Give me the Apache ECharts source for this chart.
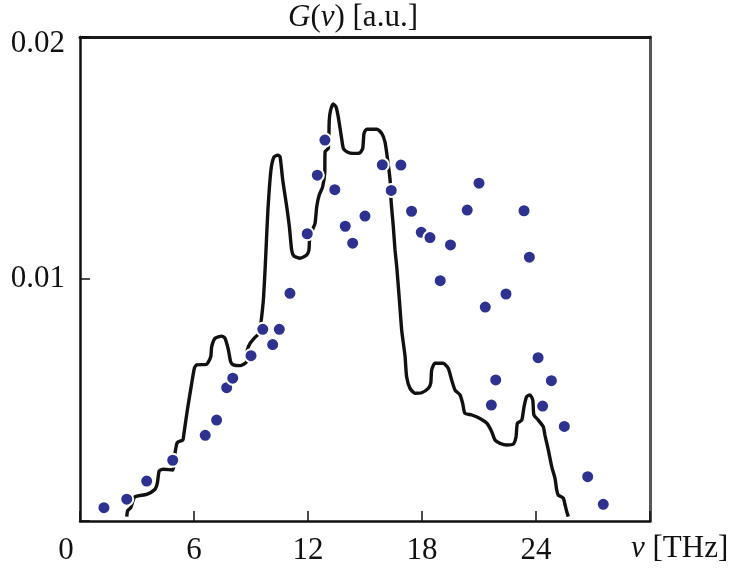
<!DOCTYPE html>
<html>
<head>
<meta charset="utf-8">
<script src="https://cdn.jsdelivr.net/npm/echarts@6/dist/echarts.min.js"></script>
<style>
html,body{margin:0;padding:0;background:#fff;}
#chart{width:735px;height:574px;}
</style>
</head>
<body>
<div id="chart"></div>
<script>
// Experimental points: frequency (THz) and G(nu) (a.u.)
const dotNu = [1.26, 2.46, 3.51, 4.88, 6.59, 7.19, 7.72, 8.04, 9.00, 9.62, 10.14, 10.49, 11.05, 11.96, 12.49, 12.89, 13.41, 13.96, 14.35, 15.00, 15.91, 16.38, 16.89, 17.45, 17.96, 18.42, 18.96, 19.50, 20.38, 21.00, 21.33, 21.65, 21.88, 22.42, 23.37, 23.65, 24.11, 24.35, 24.81, 25.49, 26.72, 27.54];
const dotG = [0.00055, 0.00090, 0.00165, 0.00251, 0.00354, 0.00417, 0.00551, 0.00590, 0.00683, 0.00792, 0.00729, 0.00792, 0.00941, 0.01187, 0.01429, 0.01574, 0.01369, 0.01218, 0.01148, 0.01260, 0.01472, 0.01366, 0.01471, 0.01280, 0.01193, 0.01171, 0.00993, 0.01141, 0.01285, 0.01396, 0.00884, 0.00479, 0.00583, 0.00938, 0.01282, 0.01090, 0.00675, 0.00475, 0.00580, 0.00391, 0.00183, 0.00069];

// Calculated curve
const curveNu = [2.46, 2.51, 2.67, 2.89, 3.51, 3.95, 4.07, 4.17, 4.38, 4.88, 4.95, 5.00, 5.12, 5.41, 5.47, 5.65, 5.88, 6.02, 6.14, 6.67, 6.88, 6.93, 7.11, 7.46, 7.63, 7.81, 7.93, 8.07, 8.42, 8.77, 8.81, 8.95, 9.21, 9.44, 9.51, 9.65, 9.74, 9.79, 9.89, 10.05, 10.21, 10.42, 10.53, 10.67, 10.88, 11.02, 11.14, 11.26, 11.58, 11.93, 12.05, 12.08, 12.19, 12.37, 12.46, 12.59, 12.77, 12.88, 12.90, 13.07, 13.12, 13.19, 13.33, 13.47, 13.59, 13.77, 13.86, 14.04, 14.38, 14.74, 14.88, 14.95, 15.09, 15.62, 15.88, 16.05, 16.17, 16.32, 16.37, 16.49, 16.58, 16.67, 16.81, 16.93, 17.02, 17.11, 17.19, 17.37, 17.63, 17.98, 18.33, 18.46, 18.51, 18.68, 19.12, 19.38, 19.56, 19.74, 20.00, 20.14, 20.26, 20.62, 21.05, 21.41, 21.67, 21.84, 22.11, 22.46, 22.81, 22.95, 23.02, 23.25, 23.37, 23.51, 23.68, 23.83, 23.89, 24.12, 24.38, 24.47, 24.65, 24.83, 25.00, 25.09, 25.17, 25.44, 25.53, 25.62, 25.70];
const curveG = [0.00018, 0.00043, 0.00055, 0.00100, 0.00110, 0.00131, 0.00156, 0.00207, 0.00214, 0.00211, 0.00238, 0.00280, 0.00324, 0.00335, 0.00362, 0.00459, 0.00569, 0.00631, 0.00645, 0.00648, 0.00679, 0.00720, 0.00755, 0.00764, 0.00755, 0.00707, 0.00658, 0.00645, 0.00642, 0.00658, 0.00707, 0.00734, 0.00759, 0.00776, 0.00810, 0.00913, 0.01037, 0.01120, 0.01285, 0.01450, 0.01504, 0.01512, 0.01505, 0.01409, 0.01299, 0.01216, 0.01120, 0.01095, 0.01086, 0.01099, 0.01120, 0.01161, 0.01195, 0.01230, 0.01299, 0.01347, 0.01381, 0.01437, 0.01526, 0.01540, 0.01657, 0.01698, 0.01723, 0.01712, 0.01671, 0.01581, 0.01540, 0.01526, 0.01519, 0.01522, 0.01540, 0.01602, 0.01619, 0.01619, 0.01602, 0.01567, 0.01505, 0.01409, 0.01326, 0.01216, 0.01120, 0.01051, 0.00913, 0.00789, 0.00734, 0.00679, 0.00596, 0.00548, 0.00528, 0.00530, 0.00548, 0.00569, 0.00624, 0.00652, 0.00652, 0.00631, 0.00583, 0.00541, 0.00521, 0.00486, 0.00445, 0.00438, 0.00424, 0.00404, 0.00369, 0.00335, 0.00321, 0.00314, 0.00318, 0.00348, 0.00404, 0.00417, 0.00472, 0.00514, 0.00521, 0.00500, 0.00438, 0.00417, 0.00390, 0.00355, 0.00293, 0.00224, 0.00176, 0.00128, 0.00107, 0.00094, 0.00066, 0.00038, 0.00018];

const xTickLabels = ['0', '6', '12', '18', '24'];
const yTickLabels = ['0.01', '0.02'];

const FONT = '"Liberation Serif", "Times New Roman", serif';
const FS = 31;

const chart = echarts.init(document.getElementById('chart'));

const dotData = dotNu.map((v, i) => [v, dotG[i]]);
const curveData = curveNu.map((v, i) => [v, curveG[i]]);

const option = {
  backgroundColor: '#ffffff',
  animation: false,
  grid: {left: 80, right: 85, top: 37, bottom: 53},
  graphic: [
    {
      type: 'text', left: 354 - 66, top: 2,
      style: {
        text: '{i|G}({i|ν}) [a.u.]',
        font: FS + 'px ' + FONT,
        fill: '#111',
        rich: {i: {fontStyle: 'italic', fontFamily: FONT, fontSize: FS, fill: '#111'}}
      }
    },
    {
      type: 'text', left: 631, top: 533,
      style: {
        text: '{i|ν} [THz]',
        font: FS + 'px ' + FONT,
        fill: '#111',
        rich: {i: {fontStyle: 'italic', fontFamily: FONT, fontSize: FS, fill: '#111'}}
      }
    }
  ],
  xAxis: [
    {
      type: 'value', min: 0, max: 30, interval: 6,
      axisLine: {show: true, onZero: false, lineStyle: {color: '#111', width: 2.5}},
      axisTick: {show: true, inside: true, length: 10, lineStyle: {color: '#111', width: 1.5}},
      splitLine: {show: false},
      axisLabel: {
        show: true, margin: 14, color: '#111', fontFamily: FONT, fontSize: FS,
        formatter: function (v) {
          const idx = Math.round(v / 6);
          if (v === 0) return '{z|' + xTickLabels[0] + '}';
          return idx < xTickLabels.length ? xTickLabels[idx] : '';
        },
        rich: {z: {fontFamily: FONT, fontSize: FS, color: '#111', padding: [0, 28, 0, 0]}}
      }
    },
    {
      type: 'value', position: 'top', min: 0, max: 30, interval: 6,
      axisLine: {show: true, onZero: false, lineStyle: {color: '#1a1a1a', width: 3}},
      axisTick: {show: false}, axisLabel: {show: false}, splitLine: {show: false}
    }
  ],
  yAxis: [
    {
      type: 'value', min: 0, max: 0.02, interval: 0.01,
      axisLine: {show: true, onZero: false, lineStyle: {color: '#111', width: 2.5}},
      axisTick: {show: true, inside: true, length: 10, lineStyle: {color: '#111', width: 1.5}},
      splitLine: {show: false},
      axisLabel: {
        show: true, margin: 15, color: '#111', fontFamily: FONT, fontSize: FS,
        formatter: function (v) {
          if (v < 0.005) return '';
          if (v > 0.015) return '{t|' + yTickLabels[1] + '}';
          return yTickLabels[0];
        },
        rich: {t: {fontFamily: FONT, fontSize: FS, color: '#111', padding: [14, 0, 0, 0]}}
      }
    },
    {
      type: 'value', position: 'right', min: 0, max: 0.02, interval: 0.01,
      axisLine: {show: true, onZero: false, lineStyle: {color: '#555', width: 3}},
      axisTick: {show: false}, axisLabel: {show: false}, splitLine: {show: false}
    }
  ],
  series: [
    {
      type: 'line', xAxisIndex: 0, yAxisIndex: 0,
      data: curveData, showSymbol: false, smooth: 0.2,
      lineStyle: {color: '#111', width: 3.4}, z: 2
    },
    {
      type: 'scatter', xAxisIndex: 0, yAxisIndex: 0,
      data: dotData, symbol: 'circle', symbolSize: 13,
      itemStyle: {color: '#2d3291', borderColor: '#ffffff', borderWidth: 2, opacity: 1},
      z: 3
    }
  ]
};
chart.setOption(option);
</script>
</body>
</html>
